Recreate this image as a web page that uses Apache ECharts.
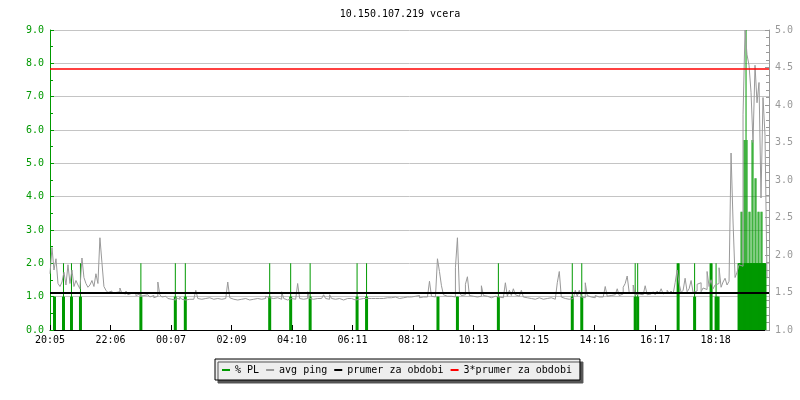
<!DOCTYPE html>
<html><head><meta charset="utf-8">
<script src="https://cdn.jsdelivr.net/npm/echarts@6/dist/echarts.min.js"></script>
<style>html,body{margin:0;padding:0;background:#fff}#c{width:800px;height:400px}</style>
</head><body><div id="c"></div>
<script>
// ---------- data ----------
const titleText = '10.150.107.219 vcera';
const xTickLabels = ['20:05','22:06','00:07','02:09','04:10','06:11','08:12','10:13','12:15','14:16','16:17','18:18'];
const xTickStepMin = 121.2;      // minutes between time labels
const spanMin = 1440;            // minutes shown
const plRange = [0, 9];          // left axis (% PL)
const pingRange = [1, 5];        // right axis (avg ping)
const pingStepMin = 4;           // minutes per avg ping sample
const pingVals = [
1.75,2.10,1.80,1.95,1.62,1.58,1.64,1.77,1.60,1.87,
1.62,1.80,1.58,1.66,1.60,1.55,1.96,1.70,1.62,1.57,
1.60,1.66,1.58,1.75,1.62,2.23,1.90,1.58,1.53,1.50,
1.52,1.49,1.50,1.48,1.51,1.56,1.49,1.48,1.52,1.47,
1.49,1.47,1.50,1.46,1.48,1.45,1.46,1.44,1.47,1.45,
1.44,1.46,1.43,1.45,1.64,1.47,1.44,1.45,1.43,1.42,
1.41,1.42,1.40,1.43,1.41,1.44,1.41,1.40,1.42,1.41,
1.42,1.41,1.43,1.53,1.42,1.41,1.40,1.42,1.41,1.43,
1.42,1.41,1.43,1.42,1.40,1.41,1.43,1.42,1.41,1.64,
1.43,1.41,1.42,1.40,1.42,1.41,1.43,1.42,1.41,1.40,
1.42,1.41,1.43,1.42,1.44,1.41,1.40,1.42,1.45,1.43,
1.45,1.42,1.41,1.43,1.42,1.41,1.51,1.42,1.40,1.41,
1.42,1.40,1.41,1.43,1.62,1.42,1.41,1.43,1.42,1.51,
1.42,1.41,1.40,1.42,1.41,1.42,1.43,1.47,1.42,1.41,
1.47,1.42,1.41,1.40,1.42,1.41,1.40,1.41,1.42,1.41,
1.42,1.41,1.40,1.42,1.41,1.43,1.42,1.41,1.42,1.41,
1.42,1.41,1.42,1.43,1.42,1.41,1.42,1.44,1.43,1.42,
1.43,1.45,1.44,1.43,1.42,1.44,1.43,1.45,1.44,1.43,
1.44,1.43,1.45,1.44,1.46,1.43,1.44,1.45,1.44,1.46,
1.65,1.45,1.44,1.46,1.95,1.78,1.59,1.47,1.45,1.44,
1.45,1.46,1.44,1.83,2.23,1.50,1.46,1.47,1.61,1.71,
1.46,1.45,1.47,1.44,1.46,1.45,1.59,1.46,1.45,1.44,
1.43,1.44,1.45,1.43,1.44,1.42,1.43,1.44,1.63,1.45,
1.53,1.46,1.55,1.47,1.45,1.46,1.53,1.44,1.43,1.42,
1.42,1.43,1.41,1.42,1.43,1.42,1.41,1.43,1.42,1.41,
1.43,1.42,1.41,1.42,1.63,1.78,1.44,1.42,1.43,1.41,
1.43,1.42,1.44,1.53,1.45,1.53,1.44,1.43,1.63,1.46,
1.44,1.45,1.43,1.46,1.44,1.45,1.44,1.46,1.58,1.45,
1.46,1.45,1.47,1.46,1.55,1.46,1.48,1.57,1.62,1.72,
1.50,1.49,1.60,1.47,1.48,1.46,1.47,1.48,1.59,1.47,
1.48,1.49,1.51,1.47,1.52,1.49,1.55,1.48,1.50,1.53,
1.49,1.52,1.48,1.63,1.80,1.62,1.50,1.53,1.69,1.51,
1.55,1.66,1.50,1.52,1.61,1.63,1.51,1.56,1.54,1.78,
1.58,1.67,1.55,1.60,1.62,1.83,1.57,1.64,1.69,1.60,
1.65,3.36,2.44,1.70,1.77,1.87,1.85,3.87,5.00,4.67,
4.53,4.17,3.50,4.53,4.03,4.30,2.76,4.10,3.60,1.69
];
// packet loss events: minute, peak value, lower (solid) part
const plTimes = [9,27,43,61,182,251,271,440,482,521,615,634,777,816,898,1046,1065,1172,1177,1258,1291,1324,1334,1338,
  1380,1382,1384,1386,1388,1390,1392,1394,1396,1398,1400,1402,1404,1406,1408,1410,1412,1414,1416,1418,1420,1422,1424,1426,1428,1430,1432];
const plPeak = [1,2,2,2,2,2,2,2,2,2,2,2,1,1,2,2,2,2,2,2,2,2,2,1,
  2,2,3.55,3.55,2,5.7,5.7,9.0,5.7,2,3.55,3.55,2,5.7,5.7,2,4.55,4.55,2,3.55,3.55,2,3.55,3.55,2,2,2];
const plBase = [1,1,1,1,1,1,1,1,1,1,1,1,1,1,1,1,1,1,1,2,1,2,1,1,
  2,2,2,2,2,2,2,2,2,2,2,2,2,2,2,2,2,2,2,2,2,2,2,2,2,2,2];
const meanPing = 1.497;
const tripleMeanPing = 4.491;
const seriesNames = ['% PL','avg ping','prumer za obdobi','3*prumer za obdobi'];

// ---------- chart ----------
const GREEN = '#009900', GREY = '#999999', GRID = '#c4c4c4';
const FONT = 'DejaVu Sans Mono';
const chart = echarts.init(document.getElementById('c'), null, {renderer: 'canvas'});

const xBase = {
  type: 'value', min: 0, max: spanMin, interval: xTickStepMin,
  splitLine: {show: false}
};
const option = {
  animation: false,
  backgroundColor: '#ffffff',
  title: {
    text: titleText, left: 'center', top: 4,
    textStyle: {fontFamily: FONT, fontSize: 10, fontWeight: 'normal', color: '#000'}
  },
  legend: {
    data: seriesNames,
    left: 215, top: 359,
    padding: [6, 8, 5, 7],
    itemGap: 7, itemWidth: 8, itemHeight: 2,
    icon: 'rect',
    backgroundColor: '#eeeeee', borderColor: '#000', borderWidth: 1, borderRadius: 0,
    shadowColor: '#555555', shadowBlur: 0, shadowOffsetX: 3, shadowOffsetY: 3,
    textStyle: {fontFamily: FONT, fontSize: 10, color: '#000'},
    selectedMode: false
  },
  grid: {left: 50, top: 30, width: 719, height: 300, containLabel: false},
  xAxis: [
    Object.assign({}, xBase, {
      axisLine: {show: true, onZero: false, lineStyle: {color: '#000', width: 1}},
      axisTick: {show: true, inside: true, length: 5, lineStyle: {color: '#000'}},
      axisLabel: {
        show: true, margin: 5, fontFamily: FONT, fontSize: 10, color: '#000', showMaxLabel: false,
        formatter: function (v) {
          const k = Math.round(v / xTickStepMin);
          if (Math.abs(v - k * xTickStepMin) > 1e-3 || k >= xTickLabels.length) return '';
          return xTickLabels[k];
        }
      }
    }),
    Object.assign({}, xBase, {show: false})
  ],
  yAxis: [
    {
      type: 'value', min: plRange[0], max: plRange[1], interval: 1, position: 'left',
      axisLine: {show: true, onZero: false, lineStyle: {color: GREEN}},
      axisTick: {show: true, inside: true, length: 4, lineStyle: {color: GREEN}},
      minorTick: {show: true, splitNumber: 2, length: 3, lineStyle: {color: GREEN}},
      splitLine: {show: true, lineStyle: {color: GRID, width: 1}},
      axisLabel: {margin: 6, fontFamily: FONT, fontSize: 10, color: GREEN,
        formatter: v => v.toFixed(1)}
    },
    {
      type: 'value', min: pingRange[0], max: pingRange[1], interval: 0.5, position: 'right',
      axisLine: {show: true, onZero: false, lineStyle: {color: GREY}},
      axisTick: {show: true, inside: true, length: 4, lineStyle: {color: GREY}},
      minorTick: {show: true, splitNumber: 5, length: 3, lineStyle: {color: GREY}},
      splitLine: {show: false},
      axisLabel: {margin: 6, fontFamily: FONT, fontSize: 10, color: GREY,
        formatter: v => v.toFixed(1)}
    }
  ],
  series: [
    {
      name: seriesNames[0], type: 'bar', xAxisIndex: 0, yAxisIndex: 0,
      barWidth: 1, color: GREEN, itemStyle: {color: GREEN}, z: 2, silent: true,
      data: plTimes.map((t, i) => [t, plPeak[i]])
    },
    {
      name: seriesNames[0], type: 'bar', xAxisIndex: 1, yAxisIndex: 0,
      barWidth: 3, color: GREEN, itemStyle: {color: GREEN}, z: 2, silent: true,
      data: plTimes.map((t, i) => [t, plBase[i]])
    },
    {
      name: seriesNames[1], type: 'line', xAxisIndex: 0, yAxisIndex: 1,
      step: 'end', showSymbol: false, symbol: 'none', color: GREY,
      lineStyle: {color: GREY, width: 1}, z: 3, silent: true,
      data: pingVals.map((v, i) => [i * pingStepMin, v])
    },
    {
      name: seriesNames[2], type: 'line', xAxisIndex: 0, yAxisIndex: 1,
      color: '#000000', data: [], z: 4,
      markLine: {silent: true, symbol: 'none', label: {show: false},
        lineStyle: {color: '#000000', width: 2, type: 'solid'},
        data: [{yAxis: meanPing}]}
    },
    {
      name: seriesNames[3], type: 'line', xAxisIndex: 0, yAxisIndex: 1,
      color: '#ff0000', data: [], z: 4,
      markLine: {silent: true, symbol: 'none', label: {show: false},
        lineStyle: {color: '#ff0000', width: 1.5, type: 'solid'},
        data: [{yAxis: tripleMeanPing}]}
    }
  ]
};
chart.setOption(option);
</script>
</body></html>
